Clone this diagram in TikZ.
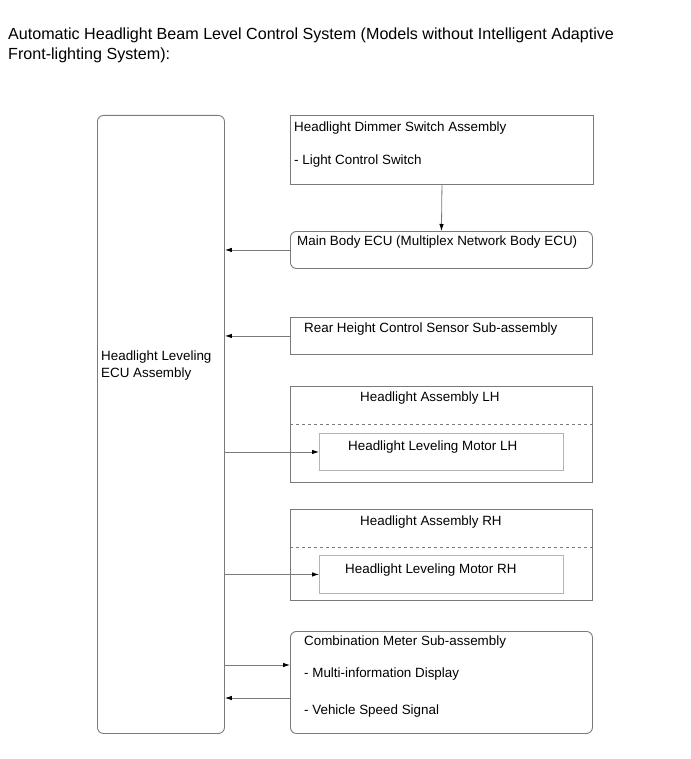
\documentclass[tikz,border=0pt]{standalone}
\usepackage{fontspec}
\setmainfont{Liberation Sans}
\usetikzlibrary{arrows.meta}
\definecolor{linegray}{HTML}{7A7A7A}
\definecolor{lightgray}{HTML}{B4B4B4}
\begin{document}
\begin{tikzpicture}[x=1pt,y=-1pt,
  box/.style={draw=linegray, line width=0.9pt, inner sep=0pt, anchor=north west},
  rbox/.style={box, rounded corners=6pt},
  ibox/.style={draw=lightgray, line width=0.9pt, inner sep=0pt, anchor=north west},
  lbl/.style={anchor=base west, inner sep=0pt, font=\fontsize{13.4}{16}\selectfont},
  ttl/.style={anchor=base west, inner sep=0pt, font=\fontsize{16.1}{19}\selectfont},
  arr/.style={draw=linegray, line width=0.8pt, -{Latex[length=7pt,width=4.5pt,color=black]}}
]
\useasboundingbox (0,0) rectangle (690,759);
\node[ttl] (t1) at (8,40) {Automatic Headlight Beam Level Control System (Models without Intelligent Adaptive};
\node[ttl] (t2) at (8,60) {Front-lighting System):};

% left ECU
\node[rbox, minimum width=127pt, minimum height=618pt] (ecu) at (97,115) {};
\node[lbl] (ecut1) at (101,360) {Headlight Leveling};
\node[lbl] (ecut2) at (101,377) {ECU Assembly};

% dimmer switch
\node[box, minimum width=303pt, minimum height=69pt] (dim) at (290,115) {};
\node[lbl] (dimt1) at (294,132) {Headlight Dimmer Switch Assembly};
\node[lbl] (dimt2) at (294,165) {- Light Control Switch};

% main body ECU
\node[rbox, minimum width=302pt, minimum height=37pt] (mb) at (290,231) {};
\node[lbl] (mbt) at (297,245) {Main Body ECU (Multiplex Network Body ECU)};

% rear height
\node[box, minimum width=302pt, minimum height=37pt] (rh) at (290,317) {};
\node[lbl] (rht) at (304,332) {Rear Height Control Sensor Sub-assembly};

% headlight LH
\node[box, minimum width=302pt, minimum height=96pt] (hlh) at (290,386) {};
\draw[linegray, line width=0.8pt, dashed] (hlh.west |- 0,424) -- (hlh.east |- 0,424);
\node[lbl] (hlht) at (360,401) {Headlight Assembly LH};
\node[ibox, minimum width=244pt, minimum height=37pt] (mlh) at (319,433) {};
\node[lbl] (mlht) at (348,450) {Headlight Leveling Motor LH};

% headlight RH
\node[box, minimum width=302pt, minimum height=91pt] (hrh) at (290,509) {};
\draw[linegray, line width=0.8pt, dashed] (hrh.west |- 0,547) -- (hrh.east |- 0,547);
\node[lbl] (hrht) at (360,525) {Headlight Assembly RH};
\node[ibox, minimum width=244pt, minimum height=38pt] (mrh) at (319,555) {};
\node[lbl] (mrht) at (345,573) {Headlight Leveling Motor RH};

% combination meter
\node[rbox, minimum width=302pt, minimum height=102pt] (cm) at (290,631) {};
\node[lbl] (cmt1) at (304,645) {Combination Meter Sub-assembly};
\node[lbl] (cmt2) at (304,677) {- Multi-information Display};
\node[lbl] (cmt3) at (304,714) {- Vehicle Speed Signal};

% connectors
\draw[arr] (dim.south) -- (mb.north);
\draw[arr] (mb.west) -- (mb.west -| ecu.east);
\draw[arr] (rh.west) -- (rh.west -| ecu.east);
\draw[arr] (mlh.west -| ecu.east) -- (mlh.west);
\draw[arr] (mrh.west -| ecu.east) -- (mrh.west);
\draw[arr] (ecu.east |- 0,665) -- (cm.west |- 0,665);
\draw[arr] (cm.west |- 0,698) -- (ecu.east |- 0,698);
\end{tikzpicture}
\end{document}
